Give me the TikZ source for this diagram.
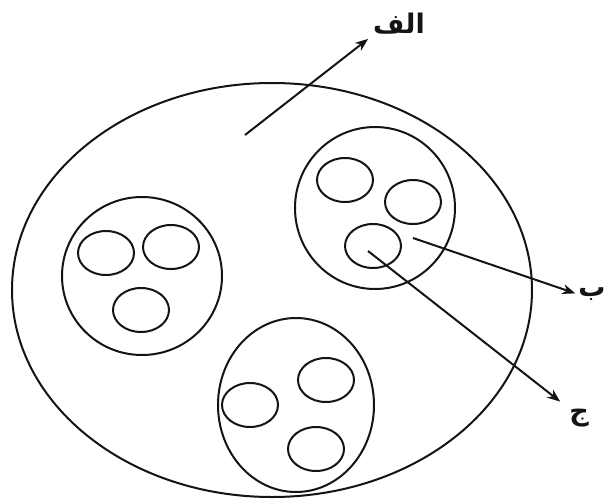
\documentclass[tikz,border=0pt]{standalone}
\usepackage{fontspec}
\newfontfamily\arabicfont[Script=Arabic]{DejaVu Sans}
\TeXXeTstate=1
\usepackage{xcolor}
\definecolor{cInk}{HTML}{141414}
\usepackage{tikz}
\usetikzlibrary{positioning,arrows.meta,shapes.geometric}
\tikzset{
  node-ring/.style={draw=cInk,line width=2pt,ellipse,inner sep=0pt},
  node-cell/.style={node-ring,minimum width=56pt,minimum height=44pt},
  node-label/.style={font=\arabicfont\bfseries\fontsize{27}{30}\selectfont,
    text=cInk,inner sep=1pt},
  arrow/.style={-{Stealth[length=13pt,width=10pt]},line width=2pt,draw=cInk},
}

\begin{document}
\begin{tikzpicture}[x=1pt,y=-1pt]
  \useasboundingbox (0,0) rectangle (616,501);
  % outer set
  \node[node-ring,minimum width=520pt,minimum height=414pt] (outer) at (272,290) {};
  % three groups
  \node[node-ring,minimum width=160pt,minimum height=158pt] (gL) at (142,276) {};
  \node[node-ring,minimum width=160pt,minimum height=162pt] (gR) at (375,208) {};
  \node[node-ring,minimum width=156pt,minimum height=174pt] (gB) at (296,405) {};
  % cells of the left group
  \node[node-cell] (l1) at (106,253) {};
  \node[node-cell] (l2) at (171,247) {};
  \node[node-cell] (l3) at (141,310) {};
  % cells of the right group
  \node[node-cell] (r1) at (345,180) {};
  \node[node-cell] (r2) at (413,202) {};
  \node[node-cell] (r3) at (373,246) {};
  % cells of the bottom group
  \node[node-cell] (b1) at (250,405) {};
  \node[node-cell] (b2) at (326,380) {};
  \node[node-cell] (b3) at (316,449) {};
  % labels
  \node[node-label] (alef) at (399,24) {\beginR الف\endR};
  \node[node-label] (be) at (592,294) {\beginR ب\endR};
  \node[node-label] (jim) at (579,418) {\beginR ج\endR};
  \coordinate (alef-from) at (245,135);
  \coordinate (be-from) at (413,238);
  \coordinate (jim-from) at (368,251);
  \draw[arrow,shorten >=5pt] (alef-from) -- (alef.south west);
  \draw[arrow,shorten >=2pt] (be-from) -- (be.west);
  \draw[arrow,shorten >=10pt] (jim-from) -- (jim.north west);
\end{tikzpicture}
\end{document}
